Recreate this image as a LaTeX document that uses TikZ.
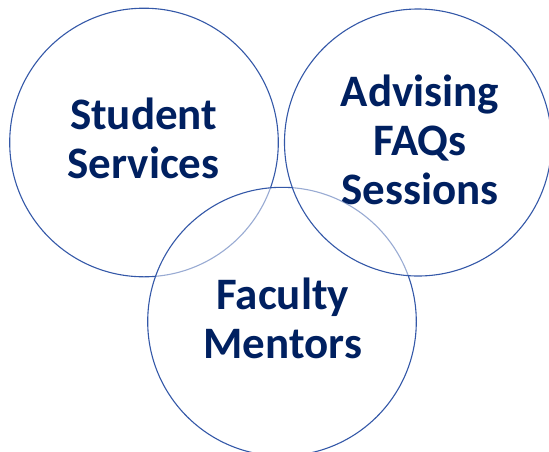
\documentclass[tikz,border=0pt]{standalone}
\usepackage{fontspec}
\setmainfont{Carlito}
\definecolor{ringblue}{RGB}{52,88,168}
\definecolor{navy}{RGB}{0,32,96}
\begin{document}
\begin{tikzpicture}[x=1pt,y=-1pt,
  ring/.style={draw=ringblue,line width=1.1pt,fill=white,fill opacity=0.5},
  lbl/.style={text=navy,font=\fontsize{45}{49}\selectfont\bfseries,align=center,anchor=base,inner sep=0pt}]
\useasboundingbox (0,0) rectangle (549,451);
\begin{scope}
\clip (0,0) rectangle (549,451);
\draw[ring] (144,142.5) circle[radius=134.3];
\draw[ring] (282,321.6) circle[radius=134.3];
\draw[ring] (418,142.5) circle[radius=133.5];
\end{scope}
\node[lbl] (ss) at (143.6,178.5) {Student\\Services};
\node[lbl] (afs) at (420,204) {Advising\\FAQs\\Sessions};
\node[lbl] (fm) at (282.7,358.5) {Faculty\\Mentors};
\end{tikzpicture}
\end{document}
